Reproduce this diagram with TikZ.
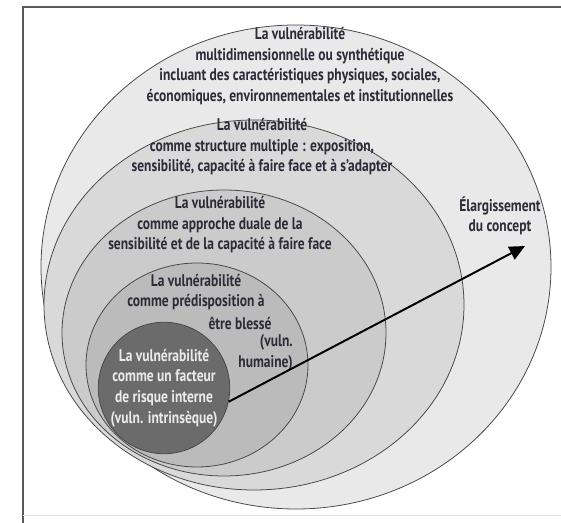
\documentclass[tikz,border=0pt]{standalone}
\usepackage{fontspec}
\setmainfont{PT Sans}[FakeStretch=0.8]
\usetikzlibrary{arrows.meta}

\definecolor{ringA}{gray}{0.915}
\definecolor{ringB}{gray}{0.85}
\definecolor{ringC}{gray}{0.795}
\definecolor{ringD}{gray}{0.735}
\definecolor{ringE}{gray}{0.42}
\definecolor{inkc}{RGB}{44,44,58}

\tikzset{
  ring/.style={draw=black!72, line width=0.55pt},
  txt/.style={align=center, inner sep=0pt, text=inkc,
    font=\fontsize{12}{14.6}\selectfont\bfseries},
}

\begin{document}
\begin{tikzpicture}[x=0.025cm,y=-0.025cm]
  \useasboundingbox (0,0) rectangle (561,523);
  \draw[black!65,line width=0.8pt] (561,7) -- (23,7) -- (23,523);
  \draw[black!12] (23,515) -- (561,515);

  % nested rings, widest first
  \draw[ring,fill=ringA] (296,267) ellipse [x radius=255, y radius=242];
  \draw[ring,fill=ringB] (254,305) ellipse [x radius=210, y radius=185];
  \draw[ring,fill=ringC] (224,333) ellipse [x radius=162, y radius=143];
  \draw[ring,fill=ringD] (197,365) ellipse [x radius=111, y radius=102];
  \node[ring,fill=ringE,circle,minimum size=3.22cm,inner sep=0pt,
    txt,text=white!92!black] (core) at (164,388)
    {La vulnérabilité\\comme un facteur\\de risque interne\\(vuln. intrinsèque)};

  \node[txt] (multi) at (300,66) {La vulnérabilité\\multidimensionnelle ou synthétique\\incluant des caractéristiques physiques, sociales,\\économiques, environnementales et institutionnelles};
  \node[txt] (struct) at (262,147) {La vulnérabilité\\comme structure multiple : exposition,\\sensibilité, capacité à faire face et à s’adapter};
  \node[txt] (duale) at (220,225) {La vulnérabilité\\comme approche duale de la\\sensibilité et de la capacité à faire face};
  \node[txt] (predis) at (196,292) {La vulnérabilité\\comme prédisposition à};
  \node[txt] (blesse) at (240,323) {être blessé};
  \node[txt,align=right,anchor=east] (humaine) at (293,353) {(vuln.\\humaine)};
  \node[txt] (elarg) at (500,216) {Élargissement\\du concept};

  \coordinate (tip) at (525,246);
  \draw[-{Triangle[length=11pt,width=10pt]},line width=1.4pt] (core.-12) -- (tip);
\end{tikzpicture}
\end{document}
